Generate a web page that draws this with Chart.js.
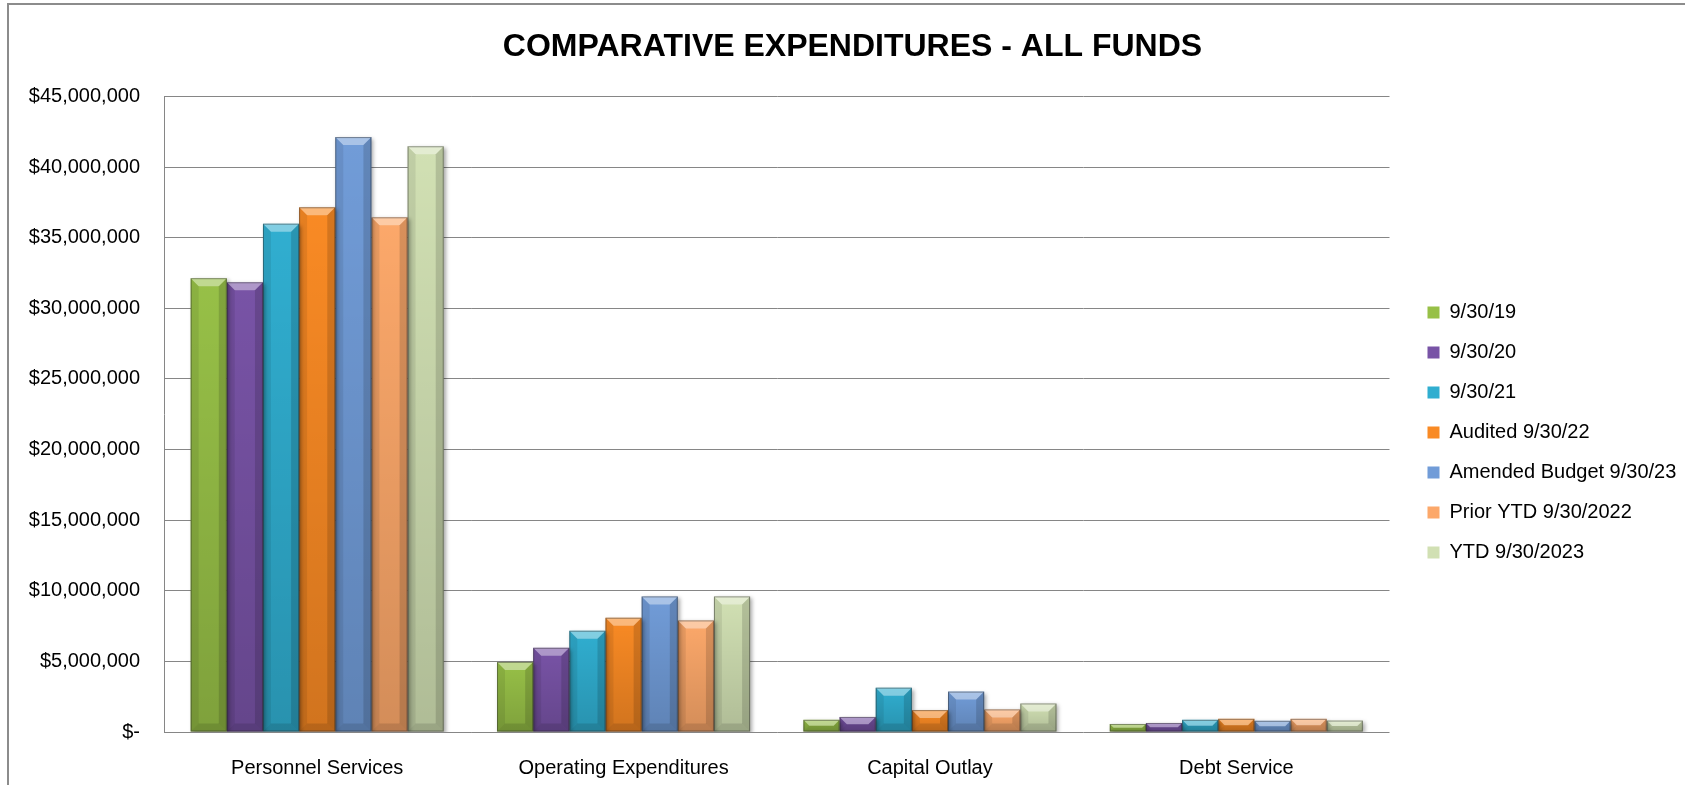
<!DOCTYPE html>
<html>
<head>
    <title>Comparative Expenditures - All Funds</title>
    <script src="https://cdn.jsdelivr.net/npm/chart.js"></script>
    <style>
        html, body { margin: 0; background: #fff; overflow: hidden; width: 1685px; height: 785px; }
        #frame {
            position: absolute; left: 7px; top: 3px;
            width: 1678px; height: 782px;
            border-left: 2px solid #8c8c8c;
            border-top: 2px solid #8c8c8c;
            box-sizing: border-box;
        }
        #wrap { position: absolute; left: 0; top: 0; width: 1685px; height: 785px; }
    </style>
</head>
<body>
    <div id="frame"></div>
    <div id="wrap"><canvas id="expChart"></canvas></div>

    <script>
        // ------------- Data -------------
        const categories = ['Personnel Services', 'Operating Expenditures', 'Capital Outlay', 'Debt Service'];
        const seriesLabels = ['9/30/19', '9/30/20', '9/30/21', 'Audited 9/30/22',
            'Amended Budget 9/30/23', 'Prior YTD 9/30/2022', 'YTD 9/30/2023'];

        const fy19 = [32130000, 4960000, 860000, 570000];
        const fy20 = [31840000, 5960000, 1070000, 640000];
        const fy21 = [35990000, 7170000, 3140000, 860000];
        const audited22 = [37150000, 8090000, 1550000, 930000];
        const amended23 = [42120000, 9600000, 2860000, 790000];
        const priorYtd22 = [36440000, 7900000, 1600000, 930000];
        const ytd23 = [41470000, 9600000, 2020000, 810000];

        const yTicks = [0, 5000000, 10000000, 15000000, 20000000, 25000000, 30000000, 35000000, 40000000, 45000000];

        const seriesValues = [fy19, fy20, fy21, audited22, amended23, priorYtd22, ytd23];
        const seriesColors = ['#97c047', '#7853a6', '#30aed0', '#f98a24', '#719cd8', '#fca86a', '#d1e0b3'];

        const FONT = "'Liberation Sans', Arial, sans-serif";

        // ------------- Bevel look for the bars -------------
        const bevelPlugin = {
            id: 'bevel',
            beforeDatasetsDraw(chart) {
                const c = chart.ctx;
                c.save();
                c.shadowColor = 'rgba(0,0,0,0.35)';
                c.shadowBlur = 4;
                c.shadowOffsetX = 2;
                c.shadowOffsetY = 2;
            },
            afterDatasetsDraw(chart) {
                const c = chart.ctx;
                c.restore();
                c.save();
                chart.data.datasets.forEach((ds, di) => {
                    const meta = chart.getDatasetMeta(di);
                    meta.data.forEach(bar => {
                        const w = bar.width;
                        const l = bar.x - w / 2, r = bar.x + w / 2;
                        const t = bar.y, btm = bar.base;
                        const h = btm - t;
                        if (h <= 0) return;
                        const b = Math.min(8, h / 2, w / 4);

                        // darker toward the bottom
                        const g = c.createLinearGradient(0, t, 0, btm);
                        g.addColorStop(0, 'rgba(0,0,0,0)');
                        g.addColorStop(1, 'rgba(0,0,0,0.16)');
                        c.fillStyle = g;
                        c.fillRect(l, t, w, h);

                        // top highlight
                        c.beginPath();
                        c.moveTo(l, t); c.lineTo(r, t); c.lineTo(r - b, t + b); c.lineTo(l + b, t + b);
                        c.closePath();
                        c.fillStyle = 'rgba(255,255,255,0.4)';
                        c.fill();
                        // left edge
                        c.beginPath();
                        c.moveTo(l, t); c.lineTo(l + b, t + b); c.lineTo(l + b, btm - b); c.lineTo(l, btm);
                        c.closePath();
                        c.fillStyle = 'rgba(0,0,0,0.08)';
                        c.fill();
                        // right edge
                        c.beginPath();
                        c.moveTo(r, t); c.lineTo(r - b, t + b); c.lineTo(r - b, btm - b); c.lineTo(r, btm);
                        c.closePath();
                        c.fillStyle = 'rgba(0,0,0,0.14)';
                        c.fill();
                        // bottom edge
                        c.beginPath();
                        c.moveTo(l, btm); c.lineTo(l + b, btm - b); c.lineTo(r - b, btm - b); c.lineTo(r, btm);
                        c.closePath();
                        c.fillStyle = 'rgba(0,0,0,0.12)';
                        c.fill();

                        c.strokeStyle = 'rgba(40,40,40,0.45)';
                        c.lineWidth = 1;
                        c.strokeRect(l + 0.5, t + 0.5, w - 1, h - 1);
                    });
                });
                c.restore();
            }
        };

        function money(v) {
            if (v === 0) return '$-';
            return '$' + v.toLocaleString('en-US');
        }

        // ------------- Chart -------------
        const ctx = document.getElementById('expChart').getContext('2d');
        new Chart(ctx, {
            type: 'bar',
            data: {
                labels: categories,
                datasets: seriesLabels.map((label, i) => ({
                    label: label,
                    data: seriesValues[i],
                    backgroundColor: seriesColors[i],
                    borderColor: 'rgba(40,40,40,0.5)',
                    borderWidth: 0,
                    categoryPercentage: 0.826,
                    barPercentage: 1.0
                }))
            },
            options: {
                responsive: true,
                maintainAspectRatio: false,
                animation: false,
                layout: { padding: { left: 20, right: 0, top: 0, bottom: 0 } },
                scales: {
                    x: {
                        grid: { display: false },
                        border: { display: false },
                        ticks: { color: '#000', font: { family: FONT, size: 20 }, padding: 16, maxRotation: 0 },
                        afterFit(s) { s.height = 53; }
                    },
                    y: {
                        min: 0,
                        max: 45000000,
                        afterBuildTicks(s) { s.ticks = yTicks.map(v => ({ value: v })); },
                        grid: { color: '#868686', lineWidth: 1, drawTicks: false },
                        border: { display: true, color: '#868686', width: 1 },
                        ticks: {
                            color: '#000',
                            font: { family: FONT, size: 20 },
                            padding: 24,
                            callback: v => money(v)
                        },
                        afterFit(s) { s.width = 144; }
                    },
                    gap: {
                        type: 'linear',
                        position: 'right',
                        grid: { display: false },
                        border: { display: false },
                        ticks: { display: false },
                        afterFit(s) { s.width = 18; }
                    }
                },
                plugins: {
                    title: {
                        display: true,
                        text: 'COMPARATIVE EXPENDITURES - ALL FUNDS',
                        color: '#000',
                        font: { family: FONT, size: 32, weight: 'bold' },
                        padding: { top: 28, bottom: 30 }
                    },
                    legend: {
                        position: 'right',
                        title: { display: true, text: ' ', font: { size: 10 }, padding: { top: 34, bottom: 34 } },
                        labels: {
                            color: '#000',
                            font: { family: FONT, size: 20 },
                            boxWidth: 12,
                            boxHeight: 12,
                            padding: 20
                        }
                    },
                    tooltip: { enabled: false }
                }
            },
            plugins: [bevelPlugin]
        });
    </script>
</body>
</html>
